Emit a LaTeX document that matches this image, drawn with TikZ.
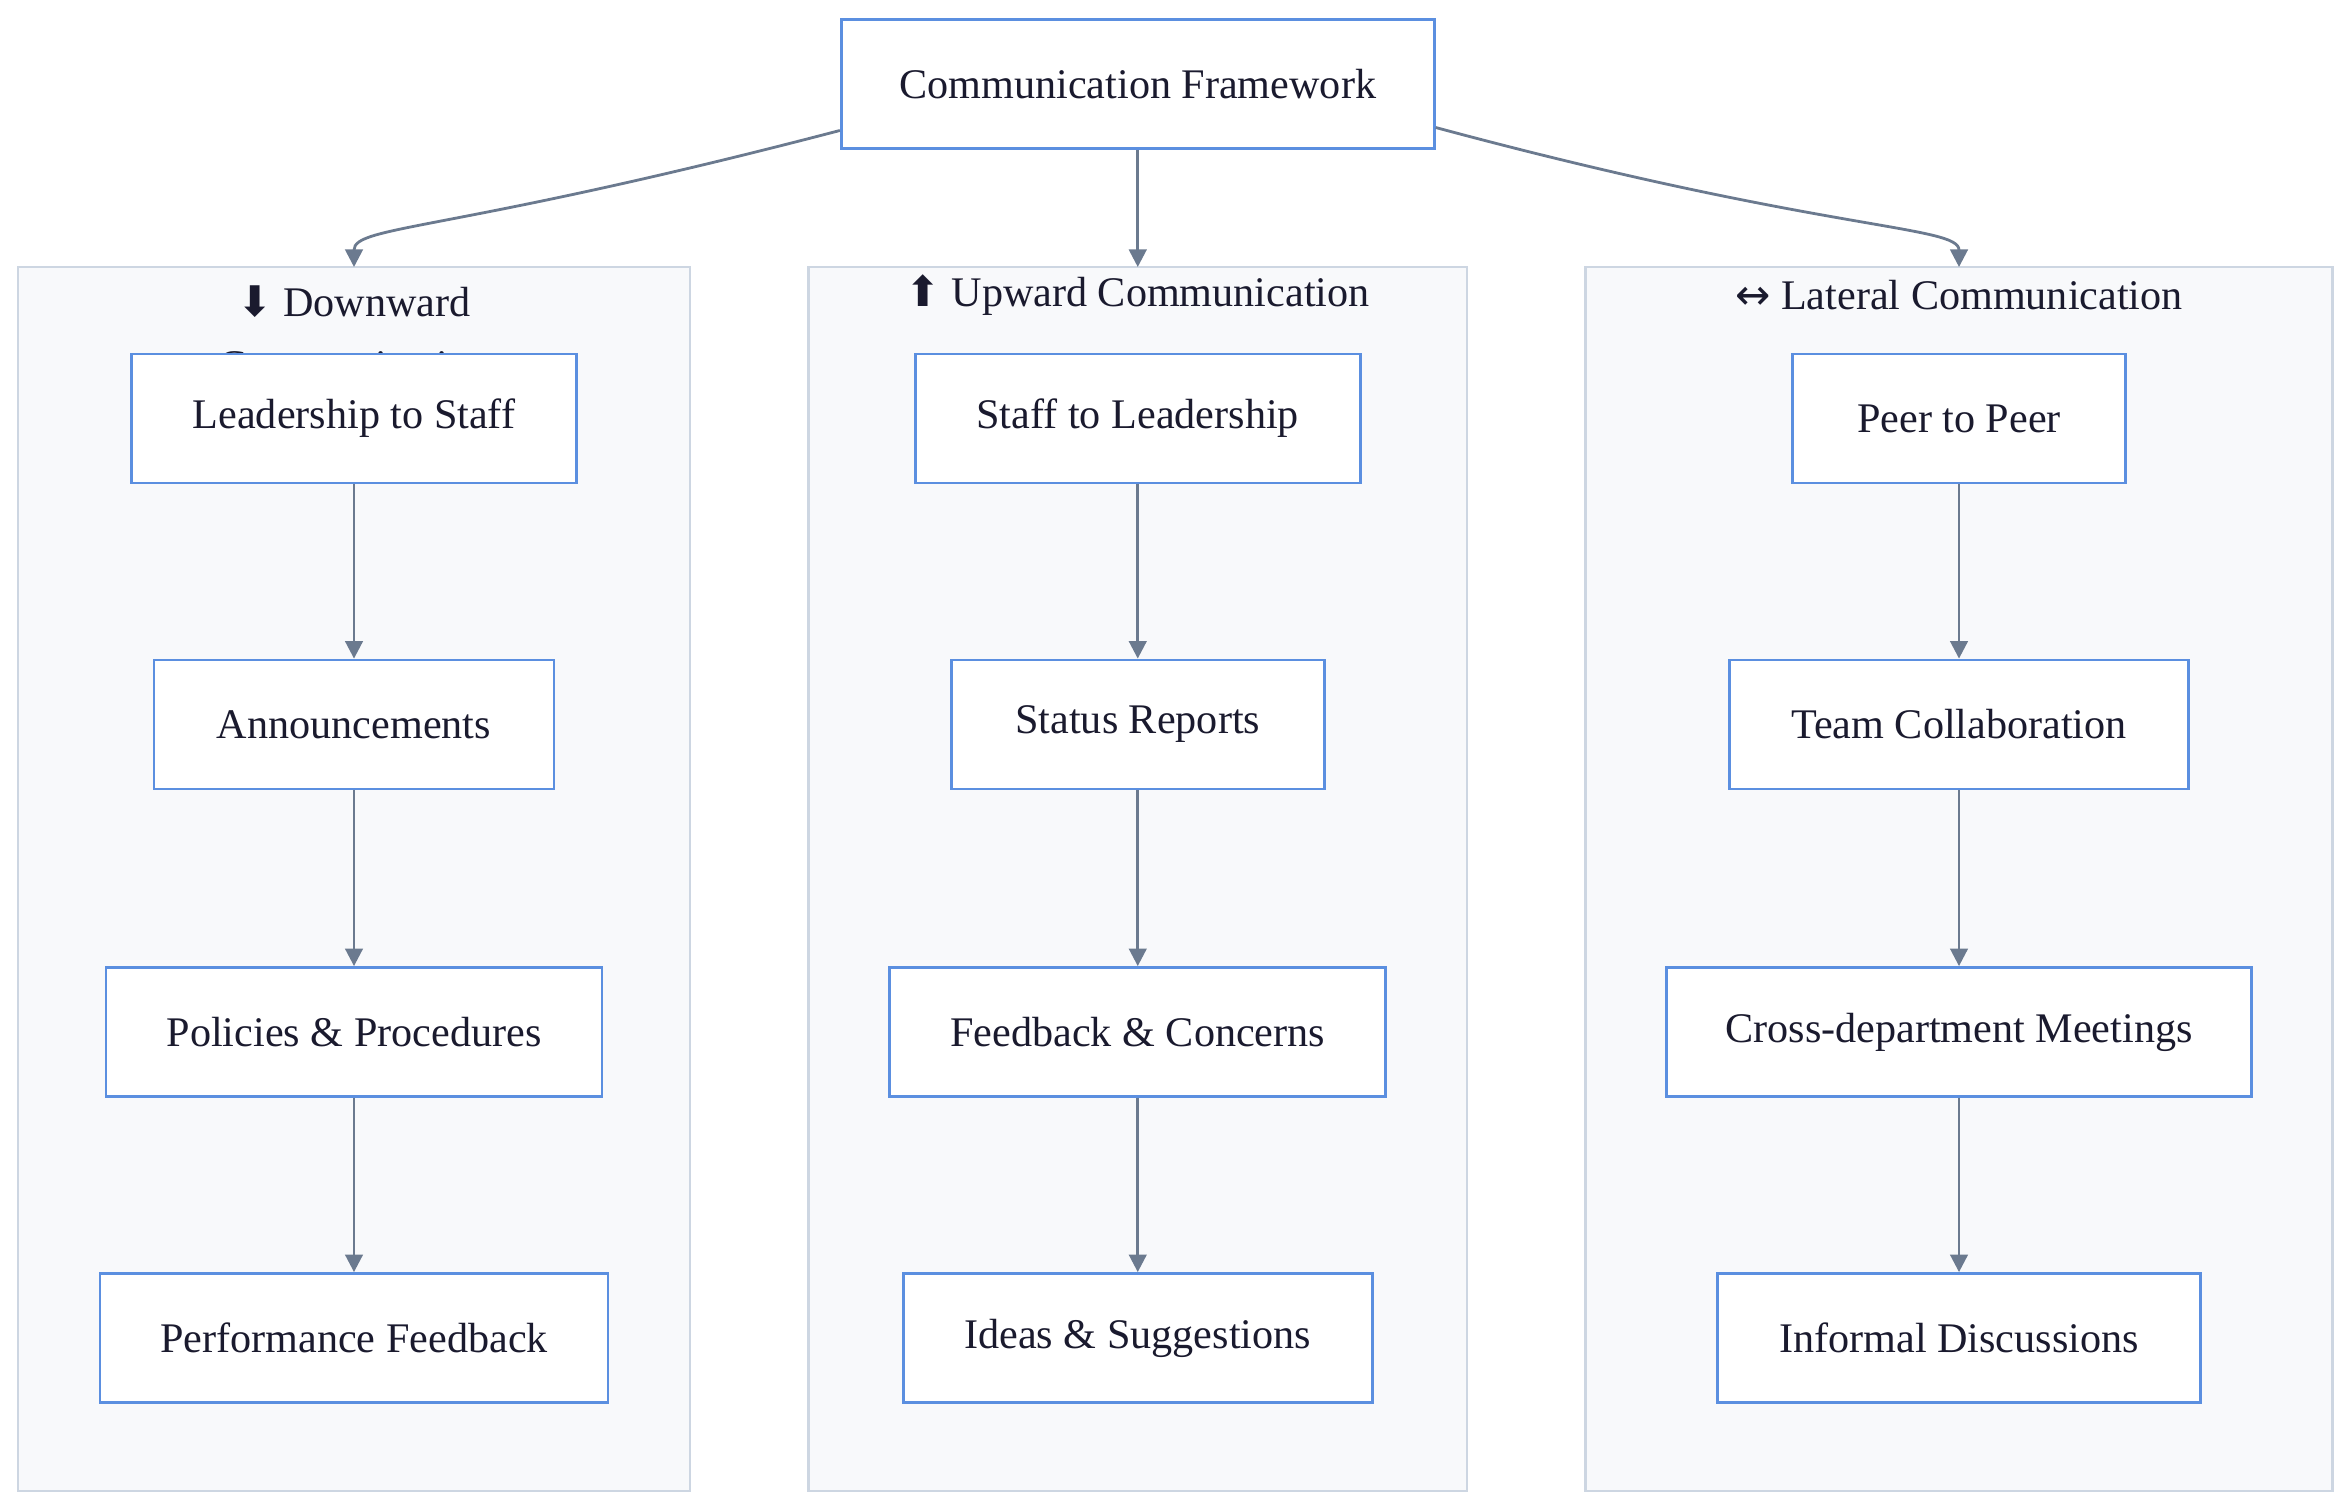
\documentclass[tikz,border=0pt]{standalone}
\usepackage{fontspec}
\setmainfont{Liberation Serif}
\newfontfamily\symfont{DejaVu Sans}
\usetikzlibrary{arrows.meta}
\definecolor{boxblue}{HTML}{5B8FE0}
\definecolor{grpfill}{HTML}{F8F9FB}
\definecolor{grpline}{HTML}{CDD6E2}
\definecolor{linkgray}{HTML}{6B7A8F}
\definecolor{txt}{HTML}{1A1A2E}

\tikzset{
  stage/.style={draw=boxblue, fill=white, line width=0.8pt, minimum height=1.29cm, text=txt,
    font=\fontsize{12}{14}\selectfont},
  lane/.style={draw=grpline, fill=grpfill, line width=0.8pt},
  head/.style={text=txt, font=\fontsize{12}{18}\selectfont, align=center},
  link/.style={draw=linkgray, line width=0.8pt, -{Triangle[length=5pt,width=5pt]}}
}

\begin{document}
\begin{tikzpicture}[x=0.015cm,y=-0.015cm]
\useasboundingbox (0,0) rectangle (1568,1006);

% lanes
\draw [lane] (12,178) rectangle (460,994);
\draw [lane] (539,178) rectangle (978,994);
\draw [lane] (1057,178) rectangle (1555,994);
\coordinate (gl) at (236,178);
\coordinate (gm) at (758.5,178);
\coordinate (gr) at (1306,178);

\node [head, anchor=north] (hl) at (236,182) {{\symfont\char"2B07} Downward\\Communication};
\node [head] (hm) at (758.5,197) {{\symfont\char"2B06} Upward Communication};
\node [head] (hr) at (1306,197) {{\symfont\char"2194} Lateral Communication};

% root
\node [stage, minimum width=5.93cm] (root) at (758.5,56) {Communication Framework};

% downward
\node [stage, minimum width=4.45cm] (d1) at (236,279) {Leadership to Staff};
\node [stage, minimum width=4.0cm] (d2) at (236,483) {Announcements};
\node [stage, minimum width=4.96cm] (d3) at (236,688) {Policies \& Procedures};
\node [stage, minimum width=5.08cm] (d4) at (236,892) {Performance Feedback};

% upward
\node [stage, minimum width=4.45cm] (u1) at (758.5,279) {Staff to Leadership};
\node [stage, minimum width=3.73cm] (u2) at (758.5,483) {Status Reports};
\node [stage, minimum width=4.96cm] (u3) at (758.5,688) {Feedback \& Concerns};
\node [stage, minimum width=4.69cm] (u4) at (758.5,892) {Ideas \& Suggestions};

% lateral
\node [stage, minimum width=3.33cm] (l1) at (1306,279) {Peer to Peer};
\node [stage, minimum width=4.59cm] (l2) at (1306,483) {Team Collaboration};
\node [stage, minimum width=5.85cm] (l3) at (1306,688) {Cross-department Meetings};
\node [stage, minimum width=4.83cm] (l4) at (1306,892) {Informal Discussions};

\draw [link] (root.west|-0,87) .. controls (300,155) and (236,150) .. (gl);
\draw [link] (root) -- (gm);
\draw [link] (root.east|-0,85) .. controls (1217,155) and (1306,150) .. (gr);

\foreach \c in {d,u,l} {
  \draw [link] (\c1) -- (\c2);
  \draw [link] (\c2) -- (\c3);
  \draw [link] (\c3) -- (\c4);
}
\end{tikzpicture}
\end{document}
